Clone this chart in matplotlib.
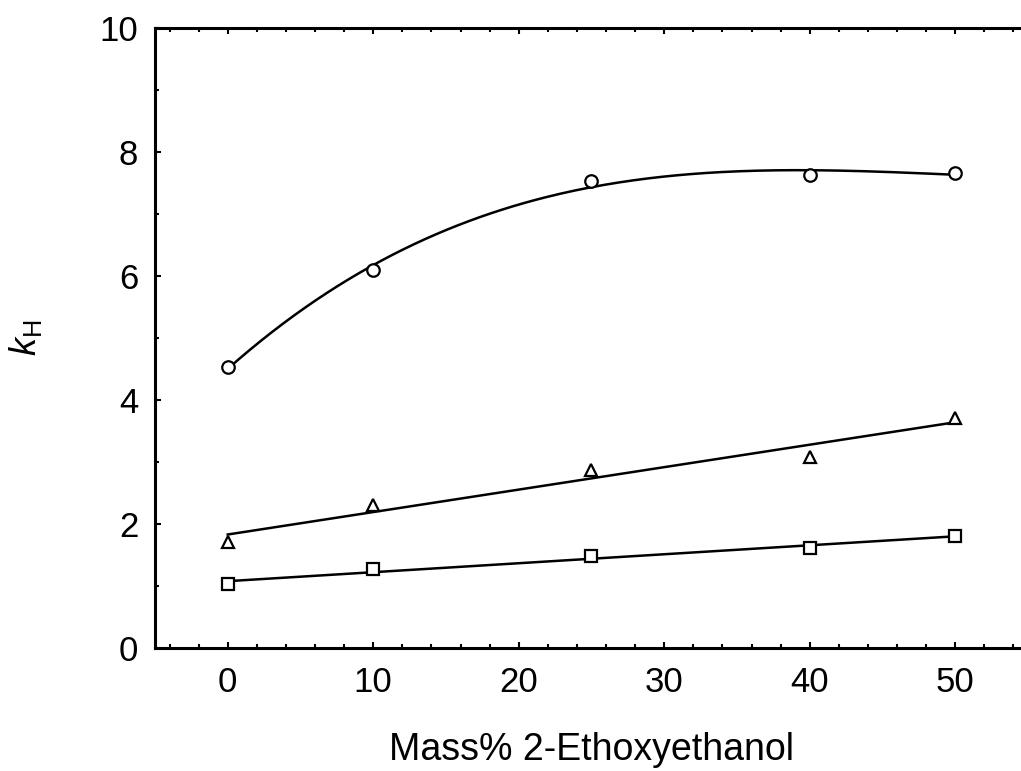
import numpy as np
import matplotlib
matplotlib.use("Agg")
import matplotlib.pyplot as plt
from matplotlib.ticker import MultipleLocator

plt.rcParams['font.family'] = ['Liberation Sans', 'DejaVu Sans']
plt.rcParams['mathtext.fontset'] = 'custom'
plt.rcParams['mathtext.rm'] = 'Liberation Sans'
plt.rcParams['mathtext.it'] = 'Liberation Sans:italic'

# mass % of 2-ethoxyethanol
mass_pct = [0, 10, 25, 40, 50]

# Huggins constants for the three series
kh_circle = [4.53, 6.10, 7.53, 7.63, 7.66]
kh_triangle = [1.71, 2.31, 2.87, 3.08, 3.71]
kh_square = [1.03, 1.27, 1.48, 1.61, 1.81]

fig = plt.figure(figsize=(10.21, 7.71), dpi=100)
ax = fig.add_axes([0.1518, 0.1595, 0.855, 0.8042])

xs = np.linspace(0, 50, 200)
fits = [(kh_circle, 3, 'o'), (kh_triangle, 1, '^'), (kh_square, 1, 's')]
for vals, deg, mk in fits:
    coef = np.polyfit(mass_pct, vals, deg)
    ax.plot(xs, np.polyval(coef, xs), color='black', lw=1.8)
    ax.plot(mass_pct, vals, linestyle='none', marker=mk, markersize=9,
            markerfacecolor='white', markeredgecolor='black', markeredgewidth=1.6)

ax.set_xlim(-5, 55)
ax.set_ylim(0, 10)
ax.xaxis.set_major_locator(MultipleLocator(10))
ax.xaxis.set_minor_locator(MultipleLocator(2))
ax.yaxis.set_major_locator(MultipleLocator(2))
ax.yaxis.set_minor_locator(MultipleLocator(1))
ax.tick_params(which='both', direction='in', top=True, right=True, width=1.5)
ax.tick_params(which='major', length=4, labelsize=25, pad=12)
ax.tick_params(which='minor', length=3)
ax.tick_params(axis='x', pad=13)
for sp in ax.spines.values():
    sp.set_linewidth(2.2)

ax.set_xlabel('Mass% 2-Ethoxyethanol', fontsize=27)
ax.xaxis.set_label_coords(0.5, -0.135)
ax.set_ylabel(r'$k_{\rm H}$', fontsize=26, labelpad=40)

fig.savefig('out.png', dpi=100)
